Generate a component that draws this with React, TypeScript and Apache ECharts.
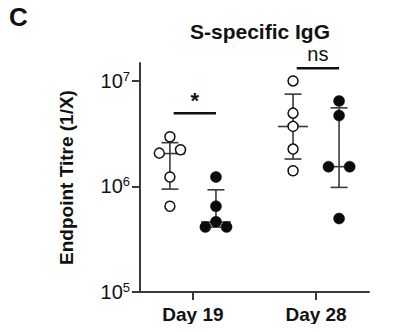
import React, { useEffect, useRef } from "react";
import * as echarts from "echarts";

const categories = ["Day 19", "Day 28"];
const categoryPos = [1, 2];
const yTickExponents = [5, 6, 7];

// titres per day, open = group A, filled = group B
const openDay19 = [2.96e6, 2.23e6, 2.07e6, 1.23e6, 6.5e5];
const openDay19Jitter = [0, 1, -1, 0, 0];
const filledDay19 = [1.23e6, 6.5e5, 4.63e5, 4.13e5, 4.13e5];
const filledDay19Jitter = [0, 0, 0, -1, 1];
const openDay28 = [1.0e7, 4.95e6, 3.71e6, 2.26e6, 1.41e6];
const openDay28Jitter = [0, 0, 0, 0, 0];
const filledDay28 = [6.45e6, 4.7e6, 1.54e6, 1.54e6, 4.97e5];
const filledDay28Jitter = [0, 0, -1, 1, 0];

// median, lower quartile, upper quartile
const openMedian = [2.05e6, 3.7e6];
const openLow = [9.44e5, 1.82e6];
const openHigh = [2.6e6, 7.5e6];
const filledMedian = [4.6e5, 1.54e6];
const filledLow = [4.13e5, 9.8e5];
const filledHigh = [9.3e5, 5.56e6];

const sigLabels = ["*", "ns"];
const sigHeights = [4.95e6, 1.32e7];

const SUB = 0.187;
const JIT = 0.086;
const FONT = "Liberation Sans, Arial, Helvetica, sans-serif";
const LINE = "#3a3a3a";

const lg = (v: number) => Math.log10(v);

function pts(vals: number[], jit: number[], center: number) {
  return vals.map((v, i) => [center + jit[i] * JIT, lg(v)]);
}

export default function App() {
  const ref = useRef<HTMLDivElement>(null);
  useEffect(() => {
    if (!ref.current) return;
    const chart = echarts.init(ref.current, undefined, { renderer: "svg" });

    const openPts = [
      ...pts(openDay19, openDay19Jitter, categoryPos[0] - SUB),
      ...pts(openDay28, openDay28Jitter, categoryPos[1] - SUB),
    ];
    const filledPts = [
      ...pts(filledDay19, filledDay19Jitter, categoryPos[0] + SUB),
      ...pts(filledDay28, filledDay28Jitter, categoryPos[1] + SUB),
    ];
    const summary: number[][] = [];
    categoryPos.forEach((c, i) => {
      summary.push([c - SUB, lg(openMedian[i]), lg(openLow[i]), lg(openHigh[i])]);
      summary.push([c + SUB, lg(filledMedian[i]), lg(filledLow[i]), lg(filledHigh[i])]);
    });
    const sig = categoryPos.map((c, i) => [c - SUB + 0.03, c + SUB, lg(sigHeights[i]), i]);

    chart.setOption({
      animation: false,
      title: {
        text: "S-specific IgG",
        left: 255,
        top: 16,
        textAlign: "center",
        textStyle: { fontFamily: FONT, fontSize: 21, fontWeight: "bold", color: "#111" },
      },
      graphic: [
        {
          type: "text",
          left: 9,
          top: 4,
          style: { text: "C", font: `bold 26px ${FONT}`, fill: "#111" },
        },
      ],
      grid: { left: 140, right: 50, top: 63, bottom: 40 },
      xAxis: {
        type: "value",
        min: 0.57,
        max: 2.43,
        splitLine: { show: false },
        axisLine: { lineStyle: { color: LINE, width: 2 } },
        axisTick: {
          customValues: categoryPos,
          length: 8,
          lineStyle: { color: LINE, width: 2 },
        },
        axisLabel: {
          customValues: categoryPos,
          formatter: (v: number) => categories[categoryPos.indexOf(Math.round(v))] ?? "",
          fontFamily: FONT,
          fontSize: 19,
          fontWeight: "bold",
          color: "#111",
          margin: 13,
        },
      },
      yAxis: {
        type: "value",
        min: 5,
        max: 7.17,
        interval: 1,
        name: "Endpoint Titre (1/X)",
        nameLocation: "middle",
        nameGap: 64,
        nameTextStyle: { fontFamily: FONT, fontSize: 19, fontWeight: "bold", color: "#111" },
        splitLine: { show: false },
        axisLine: { show: true, lineStyle: { color: LINE, width: 2 } },
        axisTick: {
          show: true,
          customValues: yTickExponents,
          length: 8,
          lineStyle: { color: LINE, width: 2 },
        },
        axisLabel: {
          customValues: yTickExponents,
          margin: 10,
          formatter: (v: number) => `{b|10}{s|${Math.round(v)}}`,
          rich: {
            b: { fontFamily: FONT, fontSize: 20, color: "#111" },
            s: { fontFamily: FONT, fontSize: 13, color: "#111", padding: [0, 0, 9, 0] },
          },
        },
      },
      series: [
        {
          type: "custom",
          z: 1,
          data: summary,
          renderItem: (params: any, api: any) => {
            const x = api.value(0);
            const m = api.coord([x, api.value(1)]);
            const lo = api.coord([x, api.value(2)]);
            const hi = api.coord([x, api.value(3)]);
            const st = { stroke: LINE, lineWidth: 1.6 };
            return {
              type: "group",
              children: [
                { type: "line", shape: { x1: m[0], y1: lo[1], x2: m[0], y2: hi[1] }, style: st },
                { type: "line", shape: { x1: m[0] - 8.5, y1: lo[1], x2: m[0] + 8.5, y2: lo[1] }, style: st },
                { type: "line", shape: { x1: m[0] - 8.5, y1: hi[1], x2: m[0] + 8.5, y2: hi[1] }, style: st },
                { type: "line", shape: { x1: m[0] - 15, y1: m[1], x2: m[0] + 15, y2: m[1] }, style: st },
              ],
            };
          },
        },
        {
          type: "scatter",
          z: 2,
          data: openPts,
          symbol: "circle",
          symbolSize: 10,
          itemStyle: { color: "#fff", borderColor: "#111", borderWidth: 1.5, opacity: 1 },
        },
        {
          type: "scatter",
          z: 2,
          data: filledPts,
          symbol: "circle",
          symbolSize: 11,
          itemStyle: { color: "#0a0a0a", borderColor: "#0a0a0a", borderWidth: 0.5, opacity: 1 },
        },
        {
          type: "custom",
          z: 3,
          data: sig,
          renderItem: (params: any, api: any) => {
            const a = api.coord([api.value(0), api.value(2)]);
            const b = api.coord([api.value(1), api.value(2)]);
            const lbl = sigLabels[api.value(3)];
            const isStar = lbl === "*";
            return {
              type: "group",
              children: [
                {
                  type: "line",
                  shape: { x1: a[0], y1: a[1], x2: b[0], y2: b[1] },
                  style: { stroke: "#111", lineWidth: 2.5 },
                },
                {
                  type: "text",
                  x: (a[0] + b[0]) / 2,
                  y: a[1] - (isStar ? 2 : 4),
                  style: {
                    text: lbl,
                    fill: "#111",
                    font: isStar ? `bold 22px ${FONT}` : `20px ${FONT}`,
                    textAlign: "center",
                    textVerticalAlign: "bottom",
                  },
                },
              ],
            };
          },
        },
      ],
    });
    return () => chart.dispose();
  }, []);
  return <div ref={ref} style={{ width: 419, height: 332, margin: -8 }} />;
}
